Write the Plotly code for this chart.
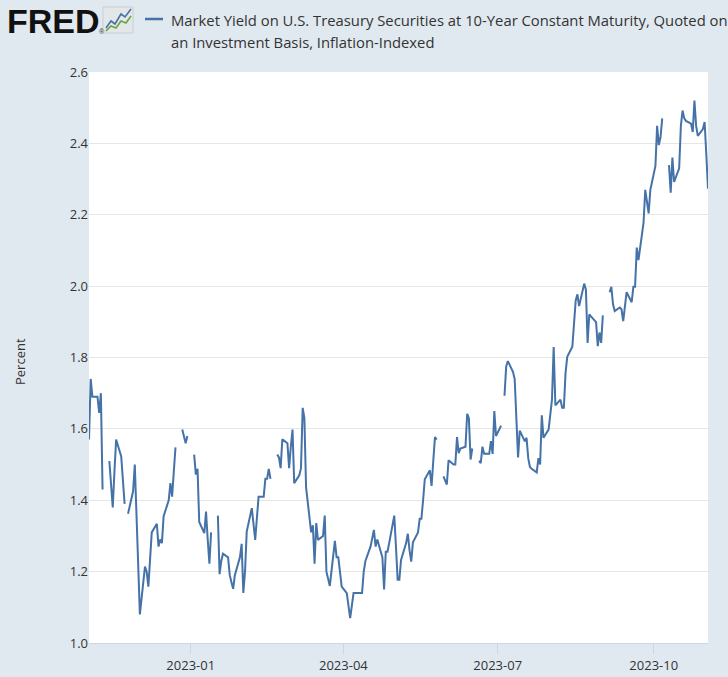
import pandas as pd
import plotly.graph_objects as go

# Business-day values (None = market holiday, drawn as a gap)
nov22 = [1.57, 1.74, 1.69, 1.69, 1.645, 1.70, 1.43, None, 1.51, 1.44, 1.38, 1.48, 1.57,
         1.523, 1.45, 1.39, None, 1.362, 1.425, 1.50, 1.375]
dec22 = [1.25, 1.08, 1.214, 1.20, 1.158, 1.23, 1.31, 1.334, 1.27, 1.29, 1.28, 1.355,
         1.40, 1.448, 1.41, 1.48, 1.548, None, 1.598, 1.58, 1.56, 1.58]
jan23 = [None, 1.528, 1.472, 1.488, 1.339, 1.308, 1.368, 1.29, 1.222, 1.31,
         None, 1.357, 1.193, 1.23, 1.25, 1.24, 1.19, 1.17, 1.152, 1.19, 1.24, 1.278]
feb23 = [1.14, 1.20, 1.312, 1.378, 1.33, 1.289, 1.35, 1.41, 1.41, 1.46, 1.46, 1.488, 1.46,
         None, 1.528, 1.52, 1.49, 1.571, 1.56, 1.49]
mar23 = [1.55, 1.598, 1.448, 1.47, 1.49, 1.659, 1.63, 1.436, 1.31, 1.33, 1.222, 1.336, 1.289,
         1.30, 1.357, 1.20, 1.18, 1.16, 1.286, 1.24, 1.24, 1.20, 1.158]
apr23 = [1.14, 1.10, 1.07, 1.105, 1.14, 1.14, 1.14, 1.14, 1.20, 1.23,
         1.27, 1.30, 1.317, 1.27, 1.29, 1.24, 1.15, 1.256, 1.256, 1.28]
may23 = [1.357, 1.27, 1.177, 1.177, 1.233, 1.28, 1.306, 1.26, 1.228, 1.282,
         1.31, 1.348, 1.348, 1.40, 1.459, 1.484, 1.44, 1.51, 1.577, 1.57, None, 1.467, 1.456]
jun23 = [1.444, 1.512, 1.50, 1.50, 1.577, 1.532, 1.545, 1.55, 1.642, 1.63, 1.514, 1.545,
         None, 1.51, 1.504, 1.55, 1.53, 1.53, 1.566, 1.53, 1.65, 1.58]
jul23 = [1.609, None, 1.693, 1.775, 1.79, 1.76, 1.74, 1.63, 1.52, 1.595,
         1.565, 1.575, 1.518, 1.493, 1.488, 1.478, 1.518, 1.50, 1.638, 1.575, 1.598]
aug23 = [1.64, 1.682, 1.829, 1.666, 1.682, 1.659, 1.659, 1.757, 1.802,
         1.83, 1.895, 1.96, 1.977, 1.944, 2.007, 1.99, 1.841, 1.921, 1.915,
         1.899, 1.832, 1.87, 1.841]
sep23 = [1.918, None, 1.983, 1.998, 1.949, 1.93, 1.94, 1.935, 1.902, 1.94, 1.983,
         1.955, 1.998, 1.998, 2.108, 2.073, 2.178, 2.27, 2.23, 2.204, 2.27]
oct23 = [2.337, 2.449, 2.395, 2.417, 2.47, None, 2.339, 2.262, 2.36, 2.292,
         2.33, 2.449, 2.492, 2.47, 2.463, 2.455, 2.432, 2.52, 2.449, 2.421, 2.44, 2.46]
nov23 = [2.37, 2.273]

start_date = "2022-11-02"
end_date = "2023-11-02"
tick_vals = ["2023-01-01", "2023-04-01", "2023-07-01", "2023-10-01"]
tick_text = ["2023-01", "2023-04", "2023-07", "2023-10"]
y_ticks = [1.0, 1.2, 1.4, 1.6, 1.8, 2.0, 2.2, 2.4, 2.6]

title_line1 = "Market Yield on U.S. Treasury Securities at 10-Year Constant Maturity, Quoted on"
title_line2 = "an Investment Basis, Inflation-Indexed"
y_title = "Percent"

values = nov22 + dec22 + jan23 + feb23 + mar23 + apr23 + may23 + jun23 + jul23 + aug23 + sep23 + oct23 + nov23
dates = pd.bdate_range(start_date, end_date)
assert len(dates) == len(values), (len(dates), len(values))

W, H = 728, 677
L, R, T, B = 89, 20, 72, 34
PW, PH = W - L - R, H - T - B


def px(x):
    return (x - L) / PW


def py(y):
    return (H - B - y) / PH


BG = "#e1e9f0"
LINE = "#4572a7"
fig = go.Figure()
fig.add_trace(go.Scatter(x=dates, y=values, mode="lines",
                         line=dict(color=LINE, width=2), connectgaps=False,
                         showlegend=False, hoverinfo="x+y"))

font_main = "Open Sans, Noto Sans, sans-serif"
fig.update_layout(
    width=W, height=H,
    margin=dict(l=L, r=R, t=T, b=B, autoexpand=False),
    paper_bgcolor=BG,
    plot_bgcolor="#ffffff",
    font=dict(family=font_main, size=13, color="#333333"),
    xaxis=dict(type="date", range=[start_date, end_date], tickvals=tick_vals,
               ticktext=tick_text, ticks="outside", ticklen=10, tickcolor="#ccd6eb",
               showline=True, linecolor="#ccd6eb", linewidth=1, showgrid=False,
               zeroline=False, automargin=False, tickfont=dict(size=13, color="#333333")),
    yaxis=dict(range=[1.0, 2.6], tickvals=y_ticks, tickformat=".1f",
               showgrid=True, gridcolor="#e6e6e6", gridwidth=1, zeroline=False,
               showline=False, ticks="", automargin=False,
               tickfont=dict(size=13, color="#333333")),
)

shapes = []
# FRED icon box
shapes.append(dict(type="rect", xref="paper", yref="paper",
                   x0=px(103), x1=px(133), y0=py(33), y1=py(7),
                   fillcolor="#e4e7ea", line=dict(color="#c9cdd1", width=1), layer="above"))
blue_pts = [(106, 28), (111, 21), (115, 24), (121, 14), (125, 17), (131, 9)]
green_pts = [(106, 31), (111, 26), (116, 28), (121, 21), (126, 23), (131, 16)]
for pts, col in ((blue_pts, "#4572a7"), (green_pts, "#6ca33f")):
    path = "M " + " L ".join(f"{px(a):.5f},{py(b):.5f}" for a, b in pts)
    shapes.append(dict(type="path", xref="paper", yref="paper", path=path,
                       line=dict(color=col, width=1.6), layer="above"))
# legend swatch
shapes.append(dict(type="line", xref="paper", yref="paper",
                   x0=px(145), x1=px(163), y0=py(19), y1=py(19),
                   line=dict(color=LINE, width=2.5), layer="above"))
fig.update_layout(shapes=shapes)

ann = [
    dict(text="<b>FRED</b>", x=px(5), y=py(21), xanchor="left", yanchor="middle",
         font=dict(family="Liberation Sans, Arial, sans-serif", size=34, color="#111111")),
    dict(text="®", x=px(97), y=py(32), xanchor="left", yanchor="middle",
         font=dict(family="Liberation Sans, Arial, sans-serif", size=7, color="#333333")),
    dict(text=title_line1, x=px(169), y=py(20), xanchor="left", yanchor="middle",
         font=dict(family=font_main, size=14.8, color="#333333")),
    dict(text=title_line2, x=px(169), y=py(42), xanchor="left", yanchor="middle",
         font=dict(family=font_main, size=14.8, color="#333333")),
    dict(text=y_title, x=px(20), y=py(362), xanchor="center", yanchor="middle",
         textangle=-90, font=dict(family=font_main, size=13, color="#333333")),
]
for a in ann:
    a.update(xref="paper", yref="paper", showarrow=False)
fig.update_layout(annotations=ann)

fig.write_html("out.html", config={"displayModeBar": False},
               post_script=f"document.body.style.margin='0';document.body.style.background='{BG}';")
